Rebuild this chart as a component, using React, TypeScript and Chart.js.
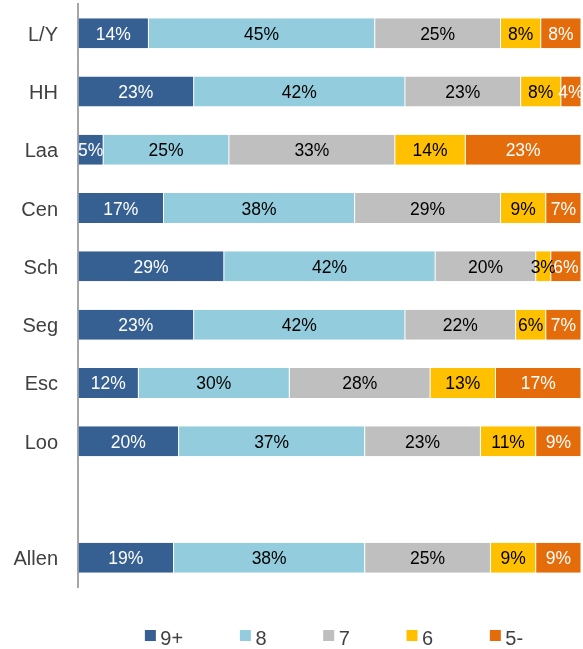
import React, { useEffect, useRef } from "react";
import { Chart, registerables } from "chart.js";

Chart.register(...registerables);

const categories = ["L/Y", "HH", "Laa", "Cen", "Sch", "Seg", "Esc", "Loo", "", "Allen"];
const seriesNames = ["9+", "8", "7", "6", "5-"];
const s9plus = [14, 23, 5, 17, 29, 23, 12, 20, null, 19];
const s8 = [45, 42, 25, 38, 42, 42, 30, 37, null, 38];
const s7 = [25, 23, 33, 29, 20, 22, 28, 23, null, 25];
const s6 = [8, 8, 14, 9, 3, 6, 13, 11, null, 9];
const s5min = [8, 4, 23, 7, 6, 7, 17, 9, null, 9];
const seriesValues = [s9plus, s8, s7, s6, s5min];
const seriesColors = ["#376092", "#93CDDD", "#BFBFBF", "#FFC000", "#E46C0A"];
const labelColors = ["#FFFFFF", "#000000", "#000000", "#000000", "#FFFFFF"];

const FONT = '"Liberation Sans", Arial, sans-serif';

const segLabelPlugin = {
  id: "segLabels",
  afterDatasetsDraw(chart: any) {
    const ctx = chart.ctx;
    ctx.save();
    ctx.font = `17.5px ${FONT}`;
    ctx.textAlign = "center";
    ctx.textBaseline = "alphabetic";
    chart.data.datasets.forEach((ds: any, di: number) => {
      const meta = chart.getDatasetMeta(di);
      meta.data.forEach((el: any, i: number) => {
        const v = ds.data[i];
        if (v == null) return;
        const { x, y, base } = el.getProps(["x", "y", "base"], true);
        ctx.fillStyle = labelColors[di];
        ctx.fillText(`${v}%`, (x + base) / 2, y + 6.5);
      });
    });
    ctx.restore();
  },
};

const legendPlugin = {
  id: "bottomLegend",
  afterDraw(chart: any) {
    const ctx = chart.ctx;
    const area = chart.chartArea;
    ctx.save();
    ctx.font = `20px ${FONT}`;
    ctx.textAlign = "left";
    ctx.textBaseline = "alphabetic";
    const box = 11;
    const gap = 4.5;
    const spacing = 56.7;
    const items = chart.data.datasets.map((ds: any) => ({
      text: ds.label,
      color: ds.backgroundColor,
      w: ctx.measureText(ds.label).width,
    }));
    const total =
      items.reduce((s: number, it: any) => s + box + gap + it.w, 0) +
      spacing * (items.length - 1);
    let x = (area.left + area.right) / 2 + 4.5 - total / 2;
    const baseline = chart.height - 4;
    const boxTop = chart.height - 19;
    items.forEach((it: any) => {
      ctx.fillStyle = it.color;
      ctx.fillRect(x, boxTop, box, box);
      ctx.fillStyle = "#404040";
      ctx.fillText(it.text, x + box + gap, baseline);
      x += box + gap + it.w + spacing;
    });
    ctx.restore();
  },
};

export default function App() {
  const canvasRef = useRef<HTMLCanvasElement | null>(null);

  useEffect(() => {
    if (!canvasRef.current) return;
    const chart = new Chart(canvasRef.current, {
      type: "bar",
      data: {
        labels: categories,
        datasets: seriesNames.map((name, i) => ({
          label: name,
          data: seriesValues[i],
          backgroundColor: seriesColors[i],
          borderColor: "#FFFFFF",
          borderWidth: { left: 0.5, right: 0.5, top: 0, bottom: 0 },
          borderSkipped: false,
          barPercentage: 0.515,
          categoryPercentage: 1,
        })),
      },
      options: {
        indexAxis: "y",
        responsive: false,
        animation: false,
        layout: { padding: { top: 4, right: 2, bottom: 62, left: 0 } },
        plugins: {
          legend: { display: false },
          title: { display: false },
          tooltip: { enabled: false },
        },
        scales: {
          x: {
            stacked: true,
            display: false,
            min: 0,
            max: 100,
          },
          y: {
            stacked: true,
            grid: { display: false, drawTicks: false },
            border: { display: true, color: "#A6A6A6", width: 2 },
            ticks: {
              color: "#404040",
              font: { family: FONT, size: 20 },
              padding: 20,
              labelOffset: 2,
              autoSkip: false,
            },
            afterFit(scale: any) {
              scale.width = 78;
              scale.paddingTop = 0;
              scale.paddingBottom = 0;
            },
          },
        },
      },
      plugins: [segLabelPlugin, legendPlugin],
    } as any);
    return () => chart.destroy();
  }, []);

  return (
    <div style={{ position: "absolute", left: 0, top: 0, width: 583, height: 649, background: "#fff" }}>
      <canvas ref={canvasRef} width={583} height={649} style={{ display: "block" }} />
    </div>
  );
}
